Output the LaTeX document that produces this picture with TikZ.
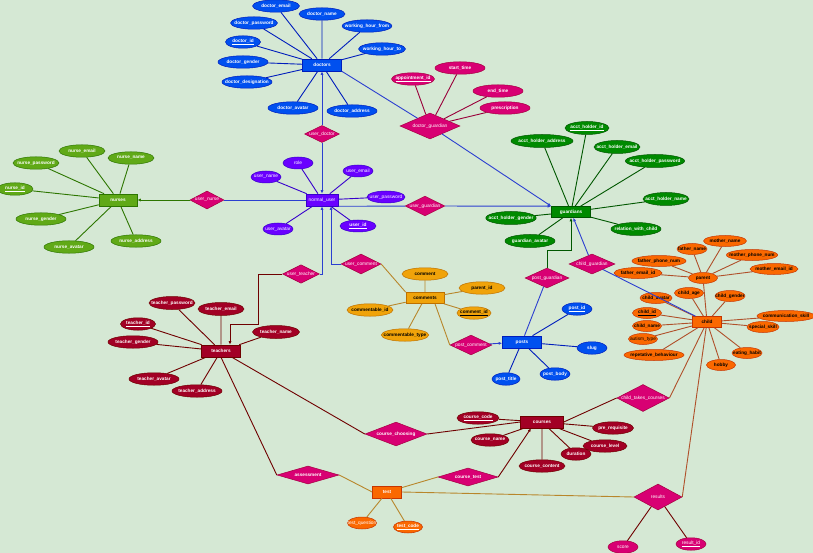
\documentclass[tikz,border=0pt]{standalone}
\usepackage{fontspec}
\setsansfont{Liberation Sans}
\usetikzlibrary{arrows.meta, positioning, shapes.geometric}

\definecolor{bgcolor}{HTML}{D5E8D4}
\definecolor{docblue}{HTML}{0050EF}
\definecolor{docline}{HTML}{001DBC}
\definecolor{nursegreen}{HTML}{60A917}
\definecolor{nurseline}{HTML}{2D7600}
\definecolor{userpurple}{HTML}{6A00FF}
\definecolor{userline}{HTML}{3700CC}
\definecolor{guardgreen}{HTML}{008A00}
\definecolor{guardline}{HTML}{005700}
\definecolor{relpink}{HTML}{D80073}
\definecolor{relline}{HTML}{A50040}
\definecolor{childorange}{HTML}{FA6800}
\definecolor{childline}{HTML}{C73500}
\definecolor{childedge}{HTML}{B0502A}
\definecolor{commentgold}{HTML}{F0A30A}
\definecolor{commentline}{HTML}{BD7000}
\definecolor{commentedge}{HTML}{B8862B}
\definecolor{teachred}{HTML}{A20025}
\definecolor{teachline}{HTML}{6F0000}
\definecolor{apptedge}{HTML}{99003A}
\definecolor{linkblue}{HTML}{2B3FD0}

\begin{document}
\begin{tikzpicture}[
	x=1pt, y=-1pt, on grid,
	every node/.style={font=\sffamily\bfseries\fontsize{4.7}{5.5}\selectfont, text=white},
	plaintext/.style={font=\sffamily\fontsize{4.8}{5.5}\selectfont},
	entity/.style={
		rectangle, draw, line width=0.6pt,
		minimum width=39pt, minimum height=12pt, inner sep=0pt
	},
	attr/.style={
		ellipse, draw, line width=0.5pt,
		minimum width=46pt, minimum height=12.5pt, inner xsep=-4.5pt, inner ysep=0pt
	},
	relation/.style={
		diamond, aspect=2, fill=relpink, draw=relline, line width=0.5pt,
		inner sep=0pt, plaintext
	},
	boldrel/.style={font=\sffamily\bfseries\fontsize{4.7}{5.5}\selectfont},
	docnode/.style={fill=docblue, draw=docline},
	nursenode/.style={fill=nursegreen, draw=nurseline},
	usernode/.style={fill=userpurple, draw=userline, plaintext, minimum width=30pt, minimum height=12pt},
	guardnode/.style={fill=guardgreen, draw=guardline, minimum height=13pt},
	kidnode/.style={fill=childorange, draw=childline, text=black, minimum width=29pt, minimum height=11pt},
	examnode/.style={fill=childorange, draw=childline, minimum width=29pt},
	cmtnode/.style={fill=commentgold, draw=commentline, text=black},
	teachnode/.style={fill=teachred, draw=teachline},
	apptnode/.style={fill=relpink, draw=relline},
	link/.style={line width=0.9pt},
	arrow/.style={-{Latex[length=3.5pt, width=3pt]}, line width=0.9pt}
	]
	
	\useasboundingbox (0,0) rectangle (813,553);
	\fill[bgcolor] (0,0) rectangle (813,553);
	
	% Doctors
	\node[entity, docnode] (doctors) at (322,65) {doctors};
	\node[attr, docnode, above left=59pt and 46pt of doctors, minimum width=47pt] (doctor_email) {doctor\_email};
	\node[attr, docnode, above=51pt of doctors] (doctor_name) {doctor\_name};
	\node[attr, docnode, above right=39pt and 45pt of doctors, minimum width=48pt] (working_hour_from) {working\_hour\_from};
	\node[attr, docnode, above right=16pt and 60pt of doctors, minimum width=47pt] (working_hour_to) {working\_hour\_to};
	\node[attr, docnode, above left=42pt and 68pt of doctors, minimum width=47pt] (doctor_password) {doctor\_password};
	\node[attr, docnode, above left=23pt and 79pt of doctors, minimum width=35pt] (doctor_id) {\underline{doctor\_id}};
	\node[attr, docnode, above left=3pt and 79pt of doctors, minimum width=50pt] (doctor_gender) {doctor\_gender};
	\node[attr, docnode, below left=17pt and 75pt of doctors, minimum width=50pt] (doctor_designation) {doctor\_designation};
	\node[attr, docnode, below left=43pt and 29pt of doctors, minimum width=50pt] (doctor_avatar) {doctor\_avatar};
	\node[attr, docnode, below right=46pt and 30pt of doctors, minimum width=50pt] (doctor_address) {doctor\_address};
	\node[relation, below=69pt of doctors, minimum width=35pt, minimum height=17pt] (user_doctor) {user\_doctor};
	\node[relation, below right=61pt and 108pt of doctors, minimum width=60pt, minimum height=26pt] (doctor_guardian) {doctor\_guardian};
	\node[attr, apptnode, above left=47pt and 17pt of doctor_guardian, minimum width=43pt] (appointment_id) {\underline{appointment\_id}};
	\node[attr, apptnode, above right=58pt and 30pt of doctor_guardian, minimum width=50pt] (start_time) {start\_time};
	\node[attr, apptnode, above right=35pt and 68pt of doctor_guardian, minimum width=50pt] (end_time) {end\_time};
	\node[attr, apptnode, above right=18pt and 75pt of doctor_guardian, minimum width=50pt] (prescription) {prescription};
	
	% Normal user
	\node[entity, usernode, below=135pt of doctors, minimum width=32pt] (normal_user) {normal\_user};
	\node[attr, usernode, above left=37pt and 24pt of normal_user] (role) {role};
	\node[attr, usernode, above left=23pt and 56pt of normal_user] (user_name) {user\_name};
	\node[attr, usernode, above right=29pt and 36pt of normal_user] (user_email) {user\_email};
	\node[attr, usernode, above right=3pt and 64pt of normal_user, minimum width=38pt] (user_password) {user\_password};
	\node[attr, usernode, below right=26pt and 36pt of normal_user, minimum width=36pt, font=\sffamily\bfseries\fontsize{4.8}{5.5}\selectfont] (user_id) {\underline{user\_id}};
	\node[attr, usernode, below left=29pt and 44pt of normal_user] (user_avatar) {user\_avatar};
	
	% Nurses
	\node[relation, left=115pt of normal_user, minimum width=34pt, minimum height=18pt] (user_nurse) {user\_nurse};
	\node[entity, nursenode, left=204pt of normal_user, minimum width=38pt] (nurses) {nurses};
	\node[attr, nursenode, above left=49pt and 36pt of nurses] (nurse_email) {nurse\_email};
	\node[attr, nursenode, above right=42pt and 13pt of nurses] (nurse_name) {nurse\_name};
	\node[attr, nursenode, above left=37pt and 82pt of nurses] (nurse_password) {nurse\_password};
	\node[attr, nursenode, above left=11pt and 103pt of nurses, minimum width=36pt] (nurse_id) {\underline{nurse\_id}};
	\node[attr, nursenode, below left=19pt and 77pt of nurses, minimum width=50pt] (nurse_gender) {nurse\_gender};
	\node[attr, nursenode, below left=47pt and 49pt of nurses, minimum width=50pt] (nurse_avatar) {nurse\_avatar};
	\node[attr, nursenode, below right=41pt and 18pt of nurses, minimum width=50pt] (nurse_address) {nurse\_address};
	
	% Guardians
	\node[relation, below right=6pt and 103pt of normal_user, minimum width=34pt, minimum height=18pt] (user_guardian) {user\_guardian};
	\node[entity, guardnode, below right=12pt and 249pt of normal_user, minimum height=11pt] (guardians) {guardians};
	\node[attr, guardnode, above right=84pt and 16pt of guardians, minimum width=44pt] (acct_holder_id) {\underline{acct\_holder\_id}};
	\node[attr, guardnode, above left=71pt and 29pt of guardians, minimum width=62pt] (acct_holder_address) {acct\_holder\_address};
	\node[attr, guardnode, above right=65pt and 46pt of guardians] (acct_holder_email) {acct\_holder\_email};
	\node[attr, guardnode, above right=51pt and 84pt of guardians, minimum width=58pt] (acct_holder_password) {acct\_holder\_password};
	\node[attr, guardnode, above right=13pt and 95pt of guardians] (acct_holder_name) {acct\_holder\_name};
	\node[attr, guardnode, below right=17pt and 65pt of guardians, minimum width=50pt] (relation_with_child) {relation\_with\_child};
	\node[attr, guardnode, below left=6pt and 60pt of guardians, minimum width=47pt] (acct_holder_gender) {acct\_holder\_gender};
	\node[attr, guardnode, below left=29pt and 41pt of guardians, minimum width=50pt] (guardian_avatar) {guardian\_avatar};
	\node[relation, below left=66pt and 24pt of guardians, minimum width=44pt, minimum height=20pt] (post_guardian) {post\_guardian};
	\node[relation, below right=52pt and 21pt of guardians, minimum width=46pt, minimum height=18pt] (child_guardian) {child\_guardian};
	
	% Child
	\node[entity, kidnode, below right=110pt and 136pt of guardians] (child) {child};
	\node[attr, kidnode, above left=44pt and 4pt of child] (parent) {parent};
	\node[attr, kidnode, above left=29pt and 11pt of parent, minimum width=30pt] (father_name) {father\_name};
	\node[attr, kidnode, above right=37pt and 22pt of parent, minimum width=43pt] (mother_name) {mother\_name};
	\node[attr, kidnode, above right=23pt and 49pt of parent, minimum width=48pt] (mother_phone_num) {mother\_phone\_num};
	\node[attr, kidnode, above left=17pt and 44pt of parent, minimum width=54pt] (father_phone_num) {father\_phone\_num};
	\node[attr, kidnode, above left=5pt and 65pt of parent, minimum width=48pt] (father_email_id) {father\_email\_id};
	\node[attr, kidnode, above right=9pt and 71pt of parent, minimum width=48pt] (mother_email_id) {mother\_email\_id};
	\node[attr, kidnode, above left=24pt and 51pt of child, minimum width=32pt] (child_avatar) {child\_avatar};
	\node[attr, kidnode, above left=29pt and 18pt of child] (child_age) {child\_age};
	\node[attr, kidnode, above right=26pt and 23pt of child, minimum width=30pt] (child_gender) {child\_gender};
	\node[attr, kidnode, above left=9pt and 60pt of child] (child_id) {\underline{child\_id}};
	\node[attr, kidnode, below left=4pt and 60pt of child] (child_name) {child\_name};
	\node[attr, kidnode, plaintext, below left=17pt and 64pt of child] (autism_type) {autism\_type};
	\node[attr, kidnode, below left=33pt and 53pt of child, minimum width=60pt] (repetative_behaviour) {repetative\_behaviour};
	\node[attr, kidnode, above right=6pt and 79pt of child, minimum width=58pt] (communication_skill) {communication\_skill};
	\node[attr, kidnode, below right=5pt and 56pt of child, minimum width=32pt] (special_skill) {special\_skill};
	\node[attr, kidnode, below right=31pt and 40pt of child, minimum width=30pt] (eating_habit) {eating\_habit};
	\node[attr, kidnode, below right=43pt and 14pt of child] (hobby) {hobby};
	
	% Comments and posts
	\node[relation, below right=64pt and 39pt of normal_user, minimum width=34pt, minimum height=18pt] (user_comment) {user\_comment};
	\node[entity, cmtnode, below right=34pt and 64pt of user_comment, minimum width=38pt, minimum height=11pt] (comments) {comments};
	\node[attr, cmtnode, above=24pt of comments] (comment) {comment};
	\node[attr, cmtnode, above right=10pt and 57pt of comments] (parent_id) {parent\_id};
	\node[attr, cmtnode, below right=15pt and 49pt of comments, minimum width=34pt] (comment_id) {\underline{comment\_id}};
	\node[attr, cmtnode, below left=12pt and 55pt of comments] (commentable_id) {commentable\_id};
	\node[attr, cmtnode, below left=37pt and 20pt of comments] (commentable_type) {commentable\_type};
	\node[relation, below right=47pt and 46pt of comments, minimum width=42pt, minimum height=18pt] (post_comment) {post\_comment};
	\node[entity, docnode, below right=44pt and 97pt of comments] (posts) {posts};
	\node[attr, docnode, above right=33pt and 55pt of posts, minimum width=30pt] (post_id) {\underline{post\_id}};
	\node[attr, docnode, below right=6pt and 70pt of posts, minimum width=30pt] (slug) {slug};
	\node[attr, docnode, below right=32pt and 33pt of posts, minimum width=30pt] (post_body) {post\_body};
	\node[attr, docnode, below left=37pt and 16pt of posts, minimum width=28pt] (post_title) {post\_title};
	
	% Teachers
	\node[relation, below left=74pt and 21pt of normal_user, minimum width=34pt, minimum height=18pt] (user_teacher) {user\_teacher};
	\node[entity, teachnode, below left=151pt and 101pt of normal_user] (teachers) {teachers};
	\node[attr, teachnode, above left=48pt and 49pt of teachers, minimum height=13pt] (teacher_password) {teacher\_password};
	\node[attr, teachnode, above=42pt of teachers, minimum height=13pt] (teacher_email) {teacher\_email};
	\node[attr, teachnode, above left=27pt and 83pt of teachers, minimum width=35pt] (teacher_id) {\underline{teacher\_id}};
	\node[attr, teachnode, above left=9pt and 88pt of teachers, minimum width=50pt] (teacher_gender) {teacher\_gender};
	\node[attr, teachnode, above right=19pt and 55pt of teachers, minimum width=47pt, minimum height=13pt] (teacher_name) {teacher\_name};
	\node[attr, teachnode, below left=28pt and 67pt of teachers, minimum width=50pt] (teacher_avatar) {teacher\_avatar};
	\node[attr, teachnode, below left=40pt and 24pt of teachers, minimum width=50pt] (teacher_address) {teacher\_address};
	\coordinate (teacher_bend) at (258,324);
	
	% Courses, test, results
	\node[entity, teachnode, below right=80pt and 20pt of posts, minimum width=43pt] (courses) {courses};
	\node[attr, teachnode, above left=4pt and 64pt of courses, minimum width=42pt] (course_code) {\underline{course\_code}};
	\node[attr, teachnode, below left=18pt and 52pt of courses, minimum width=38pt] (course_name) {course\_name};
	\node[attr, teachnode, below right=6pt and 71pt of courses, minimum width=41pt] (pre_requisite) {pre\_requisite};
	\node[attr, teachnode, below right=24pt and 63pt of courses, minimum width=44pt] (course_level) {course\_level};
	\node[attr, teachnode, below right=32pt and 34pt of courses, minimum width=30pt] (duration) {duration};
	\node[attr, teachnode, below=44pt of courses] (course_content) {course\_content};
	\node[relation, boldrel, below left=12pt and 146pt of courses, minimum width=62pt, minimum height=18pt] (course_choosing) {course\_choosing};
	\node[relation, boldrel, below right=124pt and 87pt of teachers, minimum width=62pt, minimum height=18pt] (assessment) {assessment};
	\node[entity, examnode, below right=141pt and 166pt of teachers] (test) {test};
	\node[relation, boldrel, above right=15pt and 81pt of test, minimum width=60pt, minimum height=18pt] (course_test) {course\_test};
	\node[attr, examnode, plaintext, below left=31pt and 25pt of test, minimum height=12pt] (test_question) {test\_question};
	\node[attr, examnode, below right=35pt and 21pt of test, minimum height=12pt] (test_code) {\underline{test\_code}};
	\node[relation, above right=24pt and 101pt of courses, minimum width=50pt, minimum height=27pt] (child_takes_courses) {child\_takes\_courses};
	\node[relation, below right=5pt and 271pt of test, minimum width=48pt, minimum height=26pt] (results) {results};
	\node[attr, apptnode, plaintext, below left=50pt and 35pt of results, minimum width=30pt] (score) {score};
	\node[attr, apptnode, plaintext, below right=47pt and 33pt of results, minimum width=30pt] (result_id) {\underline{result\_id}};
	
	% Attribute lines
	\draw[link, docline] (doctors) -- (doctor_email) (doctors) -- (doctor_name)
		(doctors) -- (working_hour_from) (doctors) -- (working_hour_to)
		(doctors) -- (doctor_password) (doctors) -- (doctor_id)
		(doctors) -- (doctor_gender) (doctors) -- (doctor_designation)
		(doctors) -- (doctor_avatar) (doctors) -- (doctor_address);
	\draw[link, apptedge] (appointment_id) -- (doctor_guardian) (start_time) -- (doctor_guardian)
		(end_time) -- (doctor_guardian) (prescription) -- (doctor_guardian);
	\draw[link, userline] (normal_user) -- (role) (normal_user) -- (user_name)
		(normal_user) -- (user_email) (normal_user) -- (user_password)
		(normal_user) -- (user_id) (normal_user) -- (user_avatar);
	\draw[link, nurseline] (nurses) -- (nurse_email) (nurses) -- (nurse_name)
		(nurses) -- (nurse_password) (nurses) -- (nurse_id) (nurses) -- (nurse_gender)
		(nurses) -- (nurse_avatar) (nurses) -- (nurse_address);
	\draw[link, guardline] (guardians) -- (acct_holder_id) (guardians) -- (acct_holder_address)
		(guardians) -- (acct_holder_email) (guardians) -- (acct_holder_password)
		(guardians) -- (acct_holder_name) (guardians) -- (relation_with_child)
		(guardians) -- (acct_holder_gender) (guardians) -- (guardian_avatar);
	\draw[link, childedge] (parent) -- (father_name) (parent) -- (mother_name)
		(parent) -- (mother_phone_num) (parent) -- (father_phone_num)
		(parent) -- (father_email_id) (parent) -- (mother_email_id) (parent) -- (child);
	\draw[link, childedge] (child) -- (child_avatar) (child) -- (child_age) (child) -- (child_gender)
		(child) -- (child_id) (child) -- (child_name) (child) -- (autism_type)
		(child) -- (repetative_behaviour) (child) -- (communication_skill)
		(child) -- (special_skill) (child) -- (eating_habit) (child) -- (hobby);
	\draw[link, commentedge] (comments) -- (comment) (comments) -- (parent_id) (comments) -- (comment_id)
		(comments) -- (commentable_id) (comments) -- (commentable_type);
	\draw[link, docline] (posts) -- (post_id) (posts) -- (slug) (posts) -- (post_body) (posts) -- (post_title);
	\draw[link, teachline] (teachers) -- (teacher_password) (teachers) -- (teacher_email)
		(teachers) -- (teacher_id) (teachers) -- (teacher_gender) (teachers) -- (teacher_name)
		(teachers) -- (teacher_avatar) (teachers) -- (teacher_address);
	\draw[link, teachline] (courses) -- (course_code) (courses) -- (course_name)
		(courses) -- (pre_requisite) (courses) -- (course_level)
		(courses) -- (duration) (courses) -- (course_content);
	\draw[link, commentedge] (test) -- (test_question) (test) -- (test_code);
	\draw[link, teachline] (results) -- (score) (results) -- (result_id);
	
	% Relationship lines
	\draw[arrow, linkblue] (user_doctor) -- (doctors);
	\draw[arrow, linkblue] (user_doctor) -- (normal_user);
	\draw[link, linkblue] (doctors.south east) -- (doctor_guardian);
	\draw[arrow, linkblue] (doctor_guardian) -- (guardians.north west);
	\draw[link, linkblue] (normal_user) -- (user_nurse);
	\draw[arrow, nurseline] (user_nurse) -- (nurses);
	\draw[link, linkblue] (normal_user.south east) -- (user_guardian);
	\draw[arrow, linkblue] (user_guardian) -- (guardians.north west);
	\draw[arrow, linkblue] (user_comment.west) -| ([xshift=9pt]normal_user.south);
	\draw[link, commentedge] (user_comment.east) -- (comments.north west);
	\draw[arrow, linkblue] (user_teacher.east) -| (normal_user.south);
	\draw[arrow, teachline] (user_teacher.west) -| (teacher_bend) -| ([xshift=9pt]teachers.north);
	\draw[link, commentedge] ([xshift=10pt]comments.south) -- (post_comment.west);
	\draw[arrow, linkblue] (post_comment) -- (posts);
	\draw[arrow, guardline] (post_guardian.north) -- ++(0,-17) -| (guardians.south);
	\draw[link, linkblue] (post_guardian) -- (posts);
	\draw[arrow, linkblue] (child_guardian) -- (guardians);
	\draw[link, linkblue] (child_guardian) -- (child);
	\draw[link, teachline] ([xshift=11pt]teachers.south) -- (course_choosing.west);
	\draw[link, teachline] (teachers.south) -- (assessment.west);
	\draw[link, teachline] (course_choosing.east) -- (courses.west);
	\draw[link, commentedge] (assessment.east) -- (test.west);
	\draw[link, commentedge] (test) -- (course_test.west);
	\draw[arrow, teachline] (course_test.east) -- ([xshift=-11pt]courses.south);
	\draw[link, commentedge] (test.east) -- (results.west);
	\draw[link, teachline] (courses.east) -- (child_takes_courses.west);
	\draw[link, childedge] (child_takes_courses.east) -- (child);
	\draw[link, childedge] (results.east) -- (child);
\end{tikzpicture}
\end{document}
